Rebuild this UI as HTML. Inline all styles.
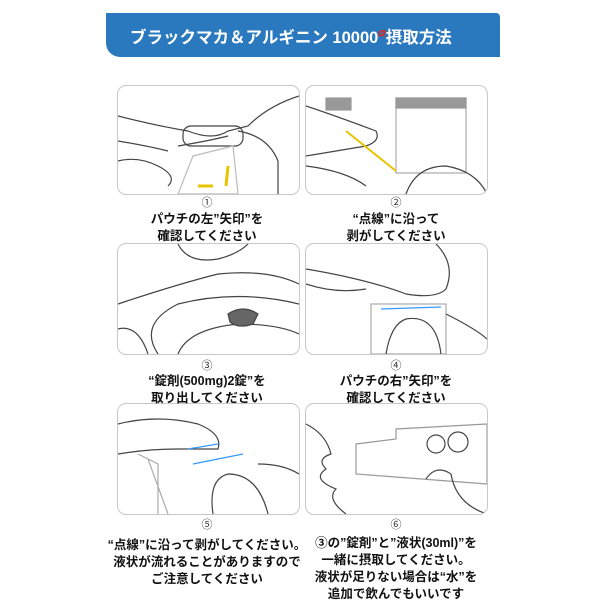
<!DOCTYPE html>
<html><head><meta charset="utf-8"><style>
body{margin:0;width:600px;height:600px;background:#fff;position:relative;overflow:hidden;font-family:"Liberation Sans","Noto Sans CJK JP",sans-serif}
.ban{position:absolute;left:106px;top:13px;width:394px;height:44px;background:#2a78bd;border-radius:0 0 0 14px;border-top-right-radius:4px}
.ban span{position:absolute;left:24px;top:11px;color:#fff;font-weight:bold;font-size:16.5px;white-space:nowrap}
.ban sup{color:#e21;font-size:12px;font-style:italic}
.p{position:absolute;border:1.5px solid #c8c8c8;border-radius:9px;background:#fff;overflow:hidden}
.t{position:absolute;width:200px;text-align:center;font-weight:bold;font-size:12.5px;line-height:17px;color:#111}
.n{position:absolute;width:200px;text-align:center;font-size:11px;color:#333}
svg{position:absolute;left:0;top:0}
</style></head><body>
<div class="ban"><span>ブラックマカ＆アルギニン 10000<sup>α</sup>摂取方法</span></div>

<div class="p" style="left:117px;top:85px;width:181px;height:108px"><svg width="181" height="108" fill="none" stroke="#444" stroke-width="1.2"><path d="M0 30 Q40 40 70 45 Q95 55 110 45 L130 40 Q150 20 181 10"/><path d="M0 55 Q30 60 50 65 M0 75 Q20 70 40 80 Q60 90 50 100"/><path d="M60 60 Q90 55 110 50"/><path d="M120 45 Q150 50 160 75 L160 108"/><rect x="65" y="40" width="60" height="20" rx="8"/><path d="M75 70 L115 60 L120 108 L60 108 Z" stroke="#bbb"/><path d="M110 80 L108 100 M80 100 L95 100" stroke="#e8c400" stroke-width="3"/></svg></div>
<div class="p" style="left:305px;top:85px;width:181px;height:108px"><svg width="181" height="108" fill="none" stroke="#444" stroke-width="1.2"><rect x="90" y="12" width="70" height="75" stroke="#aaa"/><rect x="90" y="12" width="70" height="10" fill="#999" stroke="#999"/><rect x="20" y="12" width="25" height="12" fill="#999" stroke="#999"/><path d="M0 20 Q30 30 70 45 Q75 55 60 60 L0 70 M0 80 Q40 85 60 100"/><path d="M100 108 Q110 80 140 80 Q170 85 181 108"/><path d="M40 45 L90 85" stroke="#e8c400" stroke-width="2"/></svg></div>

<div class="p" style="left:117px;top:243px;width:181px;height:110px"><svg width="181" height="110" fill="none" stroke="#444" stroke-width="1.2"><path d="M60 0 Q70 20 100 15 Q120 10 130 0"/><path d="M0 60 Q60 40 100 30 Q150 25 181 40"/><path d="M40 110 Q20 80 60 60 Q120 45 181 60"/><path d="M60 110 Q70 85 120 80 Q160 80 181 90"/><path d="M110 70 Q125 60 140 70 L135 80 Q120 85 112 78 Z" fill="#666"/><path d="M0 85 Q20 80 30 110"/></svg></div>
<div class="p" style="left:305px;top:243px;width:181px;height:110px"><svg width="181" height="110" fill="none" stroke="#444" stroke-width="1.2"><path d="M0 25 Q60 35 100 50 Q130 55 140 45 Q150 20 130 0"/><path d="M0 40 Q30 50 60 45"/><rect x="65" y="60" width="75" height="50" stroke="#aaa"/><path d="M75 65 L135 63" stroke="#39f"/><path d="M80 110 Q85 80 100 75 Q130 70 135 110"/><path d="M140 70 Q170 85 181 95"/></svg></div>

<div class="p" style="left:117px;top:403px;width:181px;height:110px"><svg width="181" height="110" fill="none" stroke="#444" stroke-width="1.2"><path d="M0 20 Q40 10 80 20 Q105 30 100 45 L60 45 Q30 45 0 50"/><path d="M20 50 L40 60 L40 110 M30 55 L50 110" stroke="#aaa"/><path d="M70 45 L100 40 M75 60 L125 50" stroke="#39f"/><path d="M95 110 Q90 75 110 70 Q140 70 150 110"/><path d="M140 60 Q165 60 181 70"/></svg></div>
<div class="p" style="left:305px;top:403px;width:181px;height:110px"><svg width="181" height="110" fill="none" stroke="#444" stroke-width="1.2"><path d="M0 20 Q20 30 25 50 Q10 55 20 65 Q5 75 30 85 Q20 95 40 110"/><path d="M50 40 L90 35 L90 25 L181 20 L181 80 L50 70 Z" stroke="#999"/><circle cx="130" cy="40" r="9"/><circle cx="152" cy="38" r="10"/><path d="M120 75 Q130 60 145 70 Q150 100 181 110"/></svg></div>

<div class="n" style="left:107px;top:194px">①</div>
<div class="n" style="left:296px;top:194px">②</div>
<div class="t" style="left:107px;top:211px">パウチの左”矢印”を<br>確認してください</div>
<div class="t" style="left:296px;top:211px">“点線”に沿って<br>剥がしてください</div>
<div class="n" style="left:107px;top:357px">③</div>
<div class="n" style="left:296px;top:357px">④</div>
<div class="t" style="left:107px;top:373px">“錠剤(500mg)2錠”を<br>取り出してください</div>
<div class="t" style="left:296px;top:373px">パウチの右”矢印”を<br>確認してください</div>
<div class="n" style="left:107px;top:516px">⑤</div>
<div class="n" style="left:296px;top:516px">⑥</div>
<div class="t" style="left:97px;top:537px;width:220px">“点線”に沿って剥がしてください。<br>液状が流れることがありますので<br>ご注意してください</div>
<div class="t" style="left:286px;top:535px;width:220px">③の”錠剤”と”液状(30ml)”を<br>一緒に摂取してください。<br>液状が足りない場合は“水”を<br>追加で飲んでもいいです</div>
</body></html>
